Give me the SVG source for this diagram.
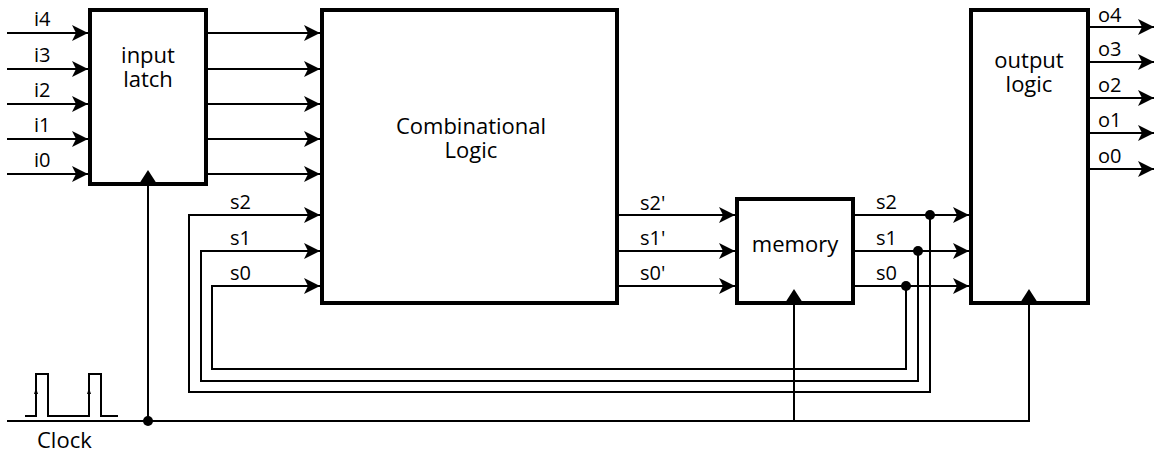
<svg xmlns="http://www.w3.org/2000/svg" width="1159" height="456" viewBox="0 0 1159 456">
<style>
.box{fill:#fff;stroke:#000;stroke-width:4}
.w{fill:none;stroke:#000;stroke-width:2}
.t{font-family:"Open Sans","Liberation Sans",sans-serif;font-size:22px;fill:#000}
.s{font-family:"Open Sans","Liberation Sans",sans-serif;font-size:20px;fill:#000}
.c{text-anchor:middle}
</style>
<defs>
<marker id="ah" markerUnits="userSpaceOnUse" markerWidth="18" markerHeight="18" refX="16" refY="8" orient="auto">
<path d="M0,0 L16,8 L0,16 L4,8 z" fill="#000"/>
</marker>
</defs>
<rect width="1159" height="456" fill="#fff"/>
<g id="connectors">
<!-- inputs -->
<path class="w" marker-end="url(#ah)" d="M7,33H88"/>
<path class="w" marker-end="url(#ah)" d="M7,69H88"/>
<path class="w" marker-end="url(#ah)" d="M7,104H88"/>
<path class="w" marker-end="url(#ah)" d="M7,139H88"/>
<path class="w" marker-end="url(#ah)" d="M7,174H88"/>
<!-- latch to comb -->
<path class="w" marker-end="url(#ah)" d="M208,33H320"/>
<path class="w" marker-end="url(#ah)" d="M208,69H320"/>
<path class="w" marker-end="url(#ah)" d="M208,104H320"/>
<path class="w" marker-end="url(#ah)" d="M208,139H320"/>
<path class="w" marker-end="url(#ah)" d="M208,174H320"/>
<!-- comb to memory -->
<path class="w" marker-end="url(#ah)" d="M619,215H735"/>
<path class="w" marker-end="url(#ah)" d="M619,251H735"/>
<path class="w" marker-end="url(#ah)" d="M619,286H735"/>
<!-- memory to output -->
<path class="w" marker-end="url(#ah)" d="M855,215H969"/>
<path class="w" marker-end="url(#ah)" d="M855,251H969"/>
<path class="w" marker-end="url(#ah)" d="M855,286H969"/>
<!-- feedback loops -->
<path class="w" marker-end="url(#ah)" d="M930,215V392H189V215H320"/>
<path class="w" marker-end="url(#ah)" d="M918,251V381H201V251H320"/>
<path class="w" marker-end="url(#ah)" d="M906,286V369H212V286H320"/>
<circle cx="930" cy="215" r="5"/>
<circle cx="918" cy="251" r="5"/>
<circle cx="906" cy="286" r="5"/>
<!-- outputs -->
<path class="w" marker-end="url(#ah)" d="M1090,27H1154"/>
<path class="w" marker-end="url(#ah)" d="M1090,62H1154"/>
<path class="w" marker-end="url(#ah)" d="M1090,98H1154"/>
<path class="w" marker-end="url(#ah)" d="M1090,133H1154"/>
<path class="w" marker-end="url(#ah)" d="M1090,169H1154"/>
<!-- clock -->
<path class="w" d="M7,421H1029V305"/>
<path class="w" d="M148,421V186"/>
<path class="w" d="M794,421V305"/>
<circle cx="148" cy="421" r="5"/>
<path class="w" d="M25,416H36V374H48V416H89V374H101V416H118"/>
<path d="M34,394L36,388L38,394z" fill="#000"/>
<path d="M87,394L89,388L91,394z" fill="#000"/>
</g>
<g id="input-latch">
<rect class="box" x="90" y="10" width="116" height="174"/>
<path d="M139,184L148,170L157,184z" fill="#000"/>
<text class="t c" x="148" y="63">input<tspan x="148" dy="24">latch</tspan></text>
</g>
<g id="combinational-logic">
<rect class="box" x="322" y="10" width="295" height="293"/>
<text class="t c" x="471" y="134">Combinational<tspan x="471" dy="24">Logic</tspan></text>
</g>
<g id="memory">
<rect class="box" x="737" y="199" width="116" height="104"/>
<path d="M785,303L794,289L803,303z" fill="#000"/>
<text class="t c" x="795" y="252">memory</text>
</g>
<g id="output-logic">
<rect class="box" x="971" y="10" width="117" height="293"/>
<path d="M1020,303L1029,289L1038,303z" fill="#000"/>
<text class="t c" x="1029" y="68">output<tspan x="1029" dy="24">logic</tspan></text>
</g>
<g id="labels">
<text class="s" x="34" y="26">i4</text>
<text class="s" x="34" y="62">i3</text>
<text class="s" x="34" y="97">i2</text>
<text class="s" x="34" y="132">i1</text>
<text class="s" x="34" y="167">i0</text>
<text class="s" x="230" y="209">s2</text>
<text class="s" x="230" y="245">s1</text>
<text class="s" x="230" y="280">s0</text>
<text class="s" x="640" y="210">s2'</text>
<text class="s" x="640" y="245">s1'</text>
<text class="s" x="640" y="280">s0'</text>
<text class="s" x="876" y="209">s2</text>
<text class="s" x="876" y="245">s1</text>
<text class="s" x="876" y="280">s0</text>
<text class="s" x="1098" y="22">o4</text>
<text class="s" x="1098" y="56">o3</text>
<text class="s" x="1098" y="92">o2</text>
<text class="s" x="1098" y="127">o1</text>
<text class="s" x="1098" y="163">o0</text>
<text class="t" x="37" y="448">Clock</text>
</g>
</svg>
